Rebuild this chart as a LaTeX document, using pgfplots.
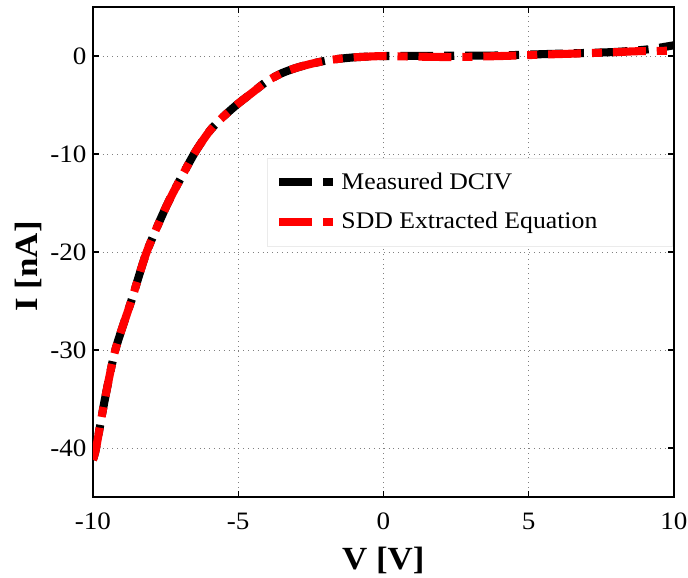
\documentclass[border=0pt]{standalone}
\usepackage{pgfplots}
\pgfplotsset{compat=1.18}
\usepackage{fontspec}
\setmainfont[FakeStretch=1.08]{Liberation Serif}
\pgfplotstableread{
V I
-10 -41.2
-9.89 -40
-9.6 -35.2
-9.23 -30
-8.67 -24.9
-8.15 -20
-7.42 -15
-6.52 -10
-5.97 -7.6
-5.5 -6.15
-5.0 -4.85
-4.5 -3.7
-4.0 -2.55
-3.5 -1.75
-3.0 -1.2
-2.5 -0.8
-2.0 -0.48
-1.5 -0.27
-1.0 -0.13
-0.5 -0.05
0 0
1 0.02
2 0.03
3 0.04
4 0.06
5 0.15
6 0.24
7 0.32
8 0.42
9 0.65
9.5 0.85
10 1.1
}\measured
\pgfplotstableread{
V I
-10 -41.2
-9.89 -40
-9.6 -35.2
-9.23 -30
-8.67 -24.9
-8.15 -20
-7.42 -15
-6.52 -10
-5.97 -7.6
-5.5 -6.15
-5.0 -4.85
-4.5 -3.7
-4.0 -2.55
-3.5 -1.75
-3.0 -1.2
-2.5 -0.8
-2.0 -0.48
-1.5 -0.27
-1.0 -0.13
-0.5 -0.05
0 0
1 -0.05
2.4 -0.1
4 0.0
5 0.1
6 0.2
6.8 0.27
8 0.4
8.8 0.5
10 0.55
}\fitted
\begin{document}
\begin{tikzpicture}
\begin{axis}[
  scale only axis,
  width=287.6pt, height=242.6pt,
  xmin=-10, xmax=10, ymin=-45, ymax=5,
  xtick={-10,-5,0,5,10},
  ytick={-40,-30,-20,-10,0},
  grid=major,
  major grid style={gray, dotted, line width=0.5pt},
  axis line style={line width=1pt},
  tick style={black, line width=0.6pt},
  major tick length=3pt,
  tick align=inside,
  /pgf/number format/assume math mode=true,
  tick label style={font=\fontsize{12.4}{14}\selectfont, inner sep=0pt},
  xticklabel style={yshift=-7.5pt},
  yticklabel style={xshift=-3pt},
  xlabel={\textbf{V [V]}},
  ylabel={\textbf{I [nA]}},
  every axis x label/.style={at={([yshift=-24.6pt]axis description cs:0.5,0)}, anchor=north,
    font=\fontsize{16}{18}\selectfont, inner sep=0pt},
  every axis y label/.style={at={([xshift=-25.2pt]axis description cs:0,0.471)}, anchor=south, rotate=90,
    font=\fontsize{16}{18}\selectfont, inner sep=0pt},
  legend style={draw=white!92!black, fill=white, at={(0.2995,0.692)}, anchor=north west,
    font=\fontsize{11.8}{13}\selectfont, inner xsep=4pt, inner ysep=5pt, row sep=6pt},
  legend cell align=left,
  legend image code/.code={\draw[#1, dash phase=0pt] (0pt,0pt) -- (26.7pt,0pt);},
]
\addplot[black, smooth, tension=0.4, line width=4pt, line cap=butt, dash pattern=on 16.3pt off 5.4pt on 5pt off 5.4pt, dash phase=9pt] table[x=V,y=I] {\measured};
\addlegendentry{\makebox[158pt][l]{Measured DCIV}}
\addplot[red, smooth, tension=0.4, line width=4pt, line cap=butt, dash pattern=on 16.3pt off 5.4pt on 5pt off 5.4pt] table[x=V,y=I] {\fitted};
\addlegendentry{\makebox[158pt][l]{SDD Extracted Equation}}
\end{axis}
\path ([xshift=-46pt,yshift=3.5pt]current axis.north west) rectangle ([xshift=7pt,yshift=-39.6pt]current axis.south east);
\end{tikzpicture}
\end{document}
